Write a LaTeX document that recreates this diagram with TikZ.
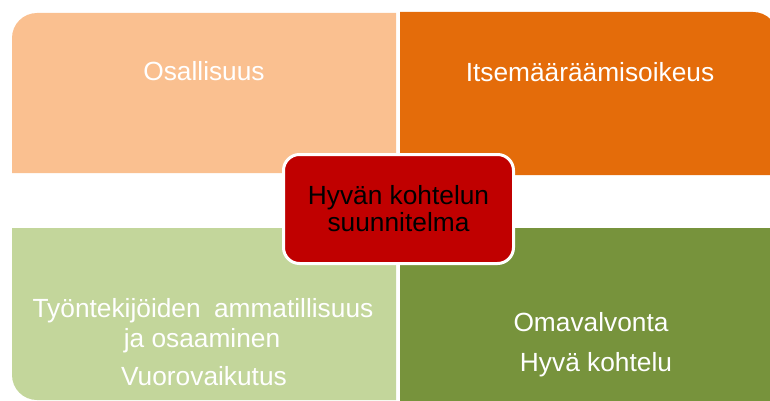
\documentclass[tikz,border=0pt]{standalone}
\usepackage{fontspec}
\setmainfont{Liberation Sans}
\definecolor{peach}{HTML}{FAC090}
\definecolor{orangeq}{HTML}{E46C0A}
\definecolor{lightgreen}{HTML}{C3D69B}
\definecolor{olive}{HTML}{77933C}
\definecolor{redbox}{HTML}{C00000}
\begin{document}
\begin{tikzpicture}[x=1pt,y=-1pt,
  quadtext/.style={text=white,font=\fontsize{26.3}{30}\selectfont,anchor=base,inner sep=0pt},
  centerbox/.style={draw=white,line width=3pt,fill=redbox,rounded corners=16pt,
    minimum width=230pt,minimum height=109pt,align=center,text=black,
    font=\fontsize{26.3}{27}\selectfont,inner sep=0pt}]
\useasboundingbox (0,0) rectangle (770,401);
\clip (0,0) rectangle (770,401);
% quadrants
\fill[peach] (12,173) [rounded corners=25pt] -- (12,13) [sharp corners] -- (396,13) -- (396,173) -- cycle;
\fill[orangeq] (400,175) -- (400,12) [rounded corners=25pt] -- (778,12) [sharp corners] -- (778,175) -- cycle;
\fill[lightgreen] (396,228) -- (12,228) [rounded corners=25pt] -- (12,400) [sharp corners] -- (396,400) -- cycle;
\fill[olive] (400,228) rectangle (780,410);
% texts
\node[quadtext] (osa) at (204,81) {Osallisuus};
\node[quadtext] (itse) at (590,82) {Itsemääräämisoikeus};
\node[quadtext] (tyo) at (203,317) {Työntekijöiden\hspace{6pt} ammatillisuus};
\node[quadtext] (osaam) at (202,347) {ja osaaminen};
\node[quadtext] (vuoro) at (204,385) {Vuorovaikutus};
\node[quadtext] (oma) at (591,331) {Omavalvonta};
\node[quadtext] (hyva) at (596,371) {Hyvä kohtelu};
% center
\node[centerbox] (center) at (398.5,209) {Hyvän kohtelun\\suunnitelma};
\end{tikzpicture}
\end{document}
